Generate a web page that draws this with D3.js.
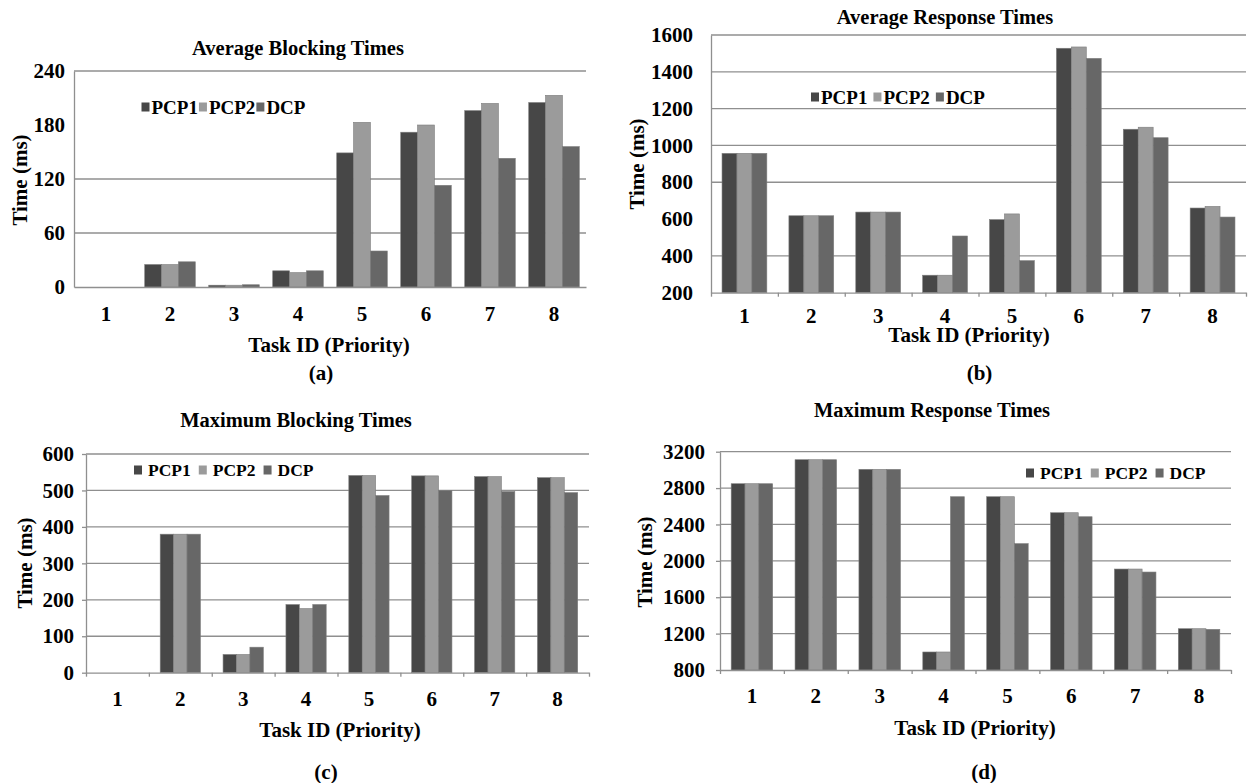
<!DOCTYPE html>
<html>
<head>
<meta charset="utf-8">
<script src="https://cdn.jsdelivr.net/npm/d3@7"></script>
<style>
    body { margin: 0; background: #fff; }
    svg text { font-family: "Liberation Serif", "Tinos", "Times New Roman", "DejaVu Serif", serif; font-weight: bold; fill: #000; }
</style>
</head>
<body>
<svg id="chart" width="1250" height="783"></svg>
<script>
var tasks = ["1", "2", "3", "4", "5", "6", "7", "8"];
var seriesNames = ["PCP1", "PCP2", "DCP"];

// (a) average blocking times, ms
var avgBlockPCP1 = [0, 25, 2, 18, 149, 172, 196, 205];
var avgBlockPCP2 = [0, 25, 2, 16, 183, 180, 204, 213];
var avgBlockDCP = [0, 28, 2.5, 18, 40, 113, 143, 156];
var avgBlockTicks = [0, 60, 120, 180, 240];
var avgBlockGrid = [60, 120, 240];   // the 180 line is not drawn in the original

// (b) average response times, ms
var avgRespPCP1 = [957, 618, 638, 295, 597, 1528, 1088, 660];
var avgRespPCP2 = [957, 618, 638, 295, 628, 1535, 1099, 669];
var avgRespDCP = [957, 618, 638, 508, 374, 1473, 1042, 611];
var avgRespTicks = [200, 400, 600, 800, 1000, 1200, 1400, 1600];
var avgRespGrid = [400, 800, 1000, 1200, 1400, 1600];

// (c) maximum blocking times, ms
var maxBlockPCP1 = [0, 380, 50, 187, 541, 540, 538, 535];
var maxBlockPCP2 = [0, 380, 50, 176, 541, 540, 538, 535];
var maxBlockDCP = [0, 380, 70, 187, 486, 500, 497, 494];
var maxBlockTicks = [0, 100, 200, 300, 400, 500, 600];
var maxBlockGrid = [100, 200, 300, 400, 500, 600];

// (d) maximum response times, ms
var maxRespPCP1 = [2848, 3112, 3006, 998, 2705, 2529, 1910, 1254];
var maxRespPCP2 = [2848, 3112, 3006, 998, 2705, 2529, 1910, 1254];
var maxRespDCP = [2848, 3112, 3006, 2705, 2189, 2485, 1877, 1247];
var maxRespTicks = [800, 1200, 1600, 2000, 2400, 2800, 3200];
var maxRespGrid = [1200, 1600, 2000, 2400, 2800, 3200];

var colors = {PCP1: "#474747", PCP2: "#9b9b9b", DCP: "#676767"};

var svg = d3.select("#chart");

function toRows(a, b, c) {
    return tasks.map(function(t, i) {
        return {task: t, PCP1: a[i], PCP2: b[i], DCP: c[i]};
    });
}

var panels = [
    {rows: toRows(avgBlockPCP1, avgBlockPCP2, avgBlockDCP), ticks: avgBlockTicks, grid: avgBlockGrid,
     title: "Average Blocking Times", caption: "(a)",
     left: 74, right: 586, top: 71, bottom: 287, gap: 0.21, yTick: 0, yPad: 9, xTick: 0, xPad: 19,
     titleX: 298, titleY: 48, xTitleX: 329, xTitleY: 345, capX: 321, capY: 373, yTitleX: 20, yTitleY: 180,
     legX: 141.5, legY: 107, legFont: 19, sqGap: 2, itemGap: 1},
    {rows: toRows(avgRespPCP1, avgRespPCP2, avgRespDCP), ticks: avgRespTicks, grid: avgRespGrid,
     title: "Average Response Times", caption: "(b)",
     left: 711, right: 1246, top: 35, bottom: 292.7, gap: 0.33, yTick: 0, yPad: 18, xTick: 4, xPad: 15,
     titleX: 945, titleY: 17, xTitleX: 969, xTitleY: 335, capX: 979.5, capY: 373, yTitleX: 637, yTitleY: 164,
     legX: 811, legY: 97, legFont: 19, sqGap: 2, itemGap: 6},
    {rows: toRows(maxBlockPCP1, maxBlockPCP2, maxBlockDCP), ticks: maxBlockTicks, grid: maxBlockGrid,
     title: "Maximum Blocking Times", caption: "(c)",
     left: 86, right: 589, top: 454, bottom: 672.7, gap: 0.36, yTick: 4, yPad: 8, xTick: 4, xPad: 18,
     titleX: 296, titleY: 420, xTitleX: 340, xTitleY: 730, capX: 326, capY: 771.7, yTitleX: 25, yTitleY: 563,
     legX: 134, legY: 470, legFont: 17.5, sqGap: 6, itemGap: 8},
    {rows: toRows(maxRespPCP1, maxRespPCP2, maxRespDCP), ticks: maxRespTicks, grid: maxRespGrid,
     title: "Maximum Response Times", caption: "(d)",
     left: 720, right: 1231, top: 451.7, bottom: 670, gap: 0.35, yTick: 4, yPad: 11, xTick: 4, xPad: 18,
     titleX: 932, titleY: 410, xTitleX: 975, xTitleY: 728, capX: 984, capY: 771.7, yTitleX: 645, yTitleY: 562,
     legX: 1026, legY: 473, legFont: 17.5, sqGap: 6, itemGap: 8}
];

panels.forEach(drawPanel);

function drawPanel(p) {
    var g = svg.append("g");
    var ticks = p.ticks;

    var x0 = d3.scaleBand()
        .domain(tasks)
        .range([p.left, p.right])
        .paddingInner(p.gap)
        .paddingOuter(p.gap / 2);
    var x1 = d3.scaleBand()
        .domain(seriesNames)
        .range([0, x0.bandwidth()]);
    var y = d3.scaleLinear()
        .domain([ticks[0], ticks[ticks.length - 1]])
        .range([p.bottom, p.top]);
    // boundaries between categories, for the small x ticks
    var xb = d3.scaleLinear().domain([0, tasks.length]).range([p.left, p.right]);

    // gridlines
    g.selectAll(".grid")
        .data(p.grid)
        .enter().append("line")
        .attr("x1", p.left)
        .attr("x2", p.right)
        .attr("y1", function(d) { return y(d); })
        .attr("y2", function(d) { return y(d); })
        .attr("stroke", "#8f8f8f")
        .attr("stroke-width", 1.3);

    // bars
    var groups = g.selectAll(".grp")
        .data(p.rows)
        .enter().append("g")
        .attr("transform", function(d) { return "translate(" + x0(d.task) + ",0)"; });
    groups.selectAll("rect")
        .data(function(d) { return seriesNames.map(function(s) { return {key: s, value: d[s]}; }); })
        .enter().append("rect")
        .attr("x", function(d) { return x1(d.key); })
        .attr("width", x1.bandwidth())
        .attr("y", function(d) { return y(d.value); })
        .attr("height", function(d) { return y(ticks[0]) - y(d.value); })
        .attr("fill", function(d) { return colors[d.key]; })
        .attr("stroke", "#7d7d7d")
        .attr("stroke-width", 0.6);

    // y axis
    var yAxis = g.append("g")
        .attr("transform", "translate(" + p.left + ",0)")
        .call(d3.axisLeft(y).tickValues(ticks).tickSize(p.yTick).tickSizeOuter(0)
            .tickPadding(p.yPad).tickFormat(d3.format("d")));
    yAxis.selectAll("text").style("font-size", "21px");

    // x axis: boundary ticks
    g.append("g")
        .attr("transform", "translate(0," + p.bottom + ")")
        .call(d3.axisBottom(xb).tickValues(d3.range(tasks.length + 1)).tickSize(p.xTick)
            .tickSizeOuter(0).tickFormat(""));
    // x axis: labels at category centres
    var xLab = g.append("g")
        .attr("transform", "translate(0," + p.bottom + ")")
        .call(d3.axisBottom(x0).tickSize(0).tickPadding(p.xPad));
    xLab.select(".domain").remove();
    xLab.selectAll("text").style("font-size", "21px");

    g.selectAll(".domain, .tick line")
        .attr("stroke", "#8f8f8f")
        .attr("stroke-width", 1.3);

    // texts
    g.append("text")
        .attr("x", p.titleX).attr("y", p.titleY).attr("dy", "0.35em")
        .attr("text-anchor", "middle")
        .style("font-size", "20.5px")
        .text(p.title);
    g.append("text")
        .attr("x", p.xTitleX).attr("y", p.xTitleY).attr("dy", "0.35em")
        .attr("text-anchor", "middle")
        .style("font-size", "21px")
        .text("Task ID (Priority)");
    g.append("text")
        .attr("x", p.capX).attr("y", p.capY).attr("dy", "0.35em")
        .attr("text-anchor", "middle")
        .style("font-size", "21px")
        .text(p.caption);
    g.append("text")
        .attr("transform", "translate(" + p.yTitleX + "," + p.yTitleY + ") rotate(-90)")
        .attr("dy", "0.35em")
        .attr("text-anchor", "middle")
        .style("font-size", "21px")
        .text("Time (ms)");

    // legend
    var cx = p.legX;
    seriesNames.forEach(function(s) {
        g.append("rect")
            .attr("x", cx).attr("y", p.legY - 4.5)
            .attr("width", 8).attr("height", 9)
            .attr("fill", colors[s]);
        cx += 8 + p.sqGap;
        var t = g.append("text")
            .attr("x", cx).attr("y", p.legY).attr("dy", "0.35em")
            .style("font-size", p.legFont + "px")
            .text(s);
        cx += t.node().getComputedTextLength() + p.itemGap;
    });
}
</script>
</body>
</html>
